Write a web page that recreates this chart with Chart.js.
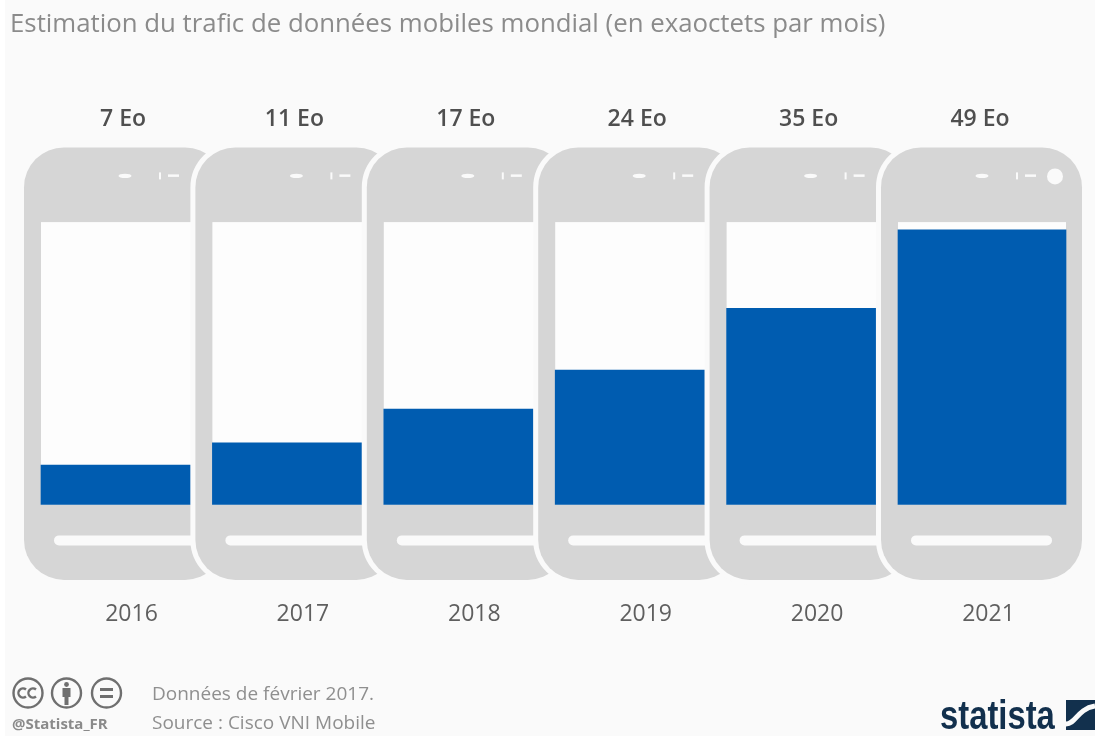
<!DOCTYPE html>
<html lang="fr">
<head>
<meta charset="utf-8">
<title>Trafic de données mobiles</title>
<script src="https://cdn.jsdelivr.net/npm/chart.js@4/dist/chart.umd.min.js"></script>
<style>
    html, body { margin: 0; padding: 0; background: #fafafa; }
    #page { position: relative; width: 1095px; height: 736px; overflow: hidden; font-family: "Open Sans", sans-serif; border-left: 0; background: linear-gradient(to right, #fff 5px, #fafafa 5px); }
    #page canvas { position: absolute; left: 0; top: 0; }
    h1 { position: absolute; left: 10px; top: 5px; margin: 0; font-size: 25.8px; font-weight: 400; line-height: 34px; color: #8b8b8b; white-space: nowrap; }
    .note { position: absolute; left: 152px; font-size: 19px; line-height: 24px; color: #8f8f8f; white-space: nowrap; }
    #handle { position: absolute; left: 12px; top: 713px; font-size: 15px; line-height: 20px; font-weight: 700; color: #8a8a8a; }
    #logo { position: absolute; left: 940px; top: 691px; font-family: "Liberation Sans", sans-serif; font-size: 41px; line-height: 48px; font-weight: 700; color: #12304d; transform: scaleX(0.8); transform-origin: left center; }
    svg { position: absolute; }
</style>
</head>
<body>
<div id="page">
    <canvas id="traffic-chart" width="1095" height="736"></canvas>
    <h1>Estimation du trafic de données mobiles mondial (en exaoctets par mois)</h1>

    <svg style="left:10px;top:676px" width="115" height="36" viewBox="0 0 115 36" fill="none" stroke="#6f6f6f" stroke-width="2.4">
        <circle cx="18" cy="17" r="14.5"/>
        <circle cx="56.5" cy="17" r="14.5"/>
        <circle cx="96.5" cy="17" r="14.5"/>
        <path d="M16 13.5a4.6 4.6 0 1 0 0 7M26 13.5a4.6 4.6 0 1 0 0 7"/>
        <circle cx="56.5" cy="8.5" r="2.4" fill="#6f6f6f" stroke="none"/>
        <path d="M52.5 12h8v9h-2v8h-4v-8h-2z" fill="#6f6f6f" stroke="none"/>
        <path d="M90 13.5h13M90 20.5h13" stroke-width="3"/>
    </svg>
    <div id="handle">@Statista_FR</div>
    <div class="note" style="top:681px">Données de février 2017.</div>
    <div class="note" style="top:710px">Source : Cisco VNI Mobile</div>

    <div id="logo">statista</div>
    <svg style="left:1066px;top:700px" width="29" height="30" viewBox="0 0 29 30">
        <rect width="29" height="30" fill="#12304d"/>
        <path d="M0 24C10 24 11 9 29 6" fill="none" stroke="#fafafa" stroke-width="5"/>
    </svg>
</div>

<script>
const years = ['2016', '2017', '2018', '2019', '2020', '2021'];
const trafficEo = [7, 11, 17, 24, 35, 49];
const valueLabels = ['7 Eo', '11 Eo', '17 Eo', '24 Eo', '35 Eo', '49 Eo'];

const GREY = '#d6d6d6';
const BACKGROUND = '#fafafa';
const SCREEN = '#fdfdfd';
const BLUE = '#005cb0';

function roundedPath(ctx, x, y, w, h, r) {
    ctx.beginPath();
    ctx.roundRect(x, y, w, h, r);
}

// Large tick padding would otherwise push the plot area in from the sides
function dropSidePadding(scale) {
    scale.paddingLeft = 0;
    scale.paddingRight = 0;
}

// The last phone is not covered by a neighbour, so its screen and bar are wider
const lastBarPlugin = {
    id: 'lastBar',
    afterDatasetsUpdate(chart) {
        const bars = chart.getDatasetMeta(0).data;
        const last = bars[bars.length - 1];
        last.x += 9.5;
        last.width += 19;
    }
};

const phonesPlugin = {
    id: 'phones',
    beforeDraw(chart) {
        const { ctx, chartArea, scales } = chart;
        const top = chartArea.bottom - 357;
        const height = 432.5;

        years.forEach((year, i) => {
            const left = scales.x.getPixelForValue(i) - 91.5;
            const isLast = i === years.length - 1;

            ctx.save();
            roundedPath(ctx, left, top, 201, height, 40);
            ctx.lineWidth = 10;
            ctx.strokeStyle = BACKGROUND;
            ctx.stroke();
            ctx.fillStyle = GREY;
            ctx.fill();

            // screen
            ctx.fillStyle = SCREEN;
            ctx.fillRect(left + 17, chartArea.top, isLast ? 168 : 184, chartArea.height);

            // speaker, sensor and home bar
            ctx.fillStyle = BACKGROUND;
            ctx.beginPath();
            ctx.ellipse(left + 101, top + 28.5, 6.5, 2.2, 0, 0, Math.PI * 2);
            ctx.fill();
            ctx.fillRect(left + 135, top + 25, 2, 7);
            ctx.fillRect(left + 144, top + 27, 11, 2.5);
            roundedPath(ctx, left + 30, top + 388, isLast ? 141 : 171, 10, 5);
            ctx.fill();
            if (isLast) {
                ctx.beginPath();
                ctx.arc(left + 174, top + 29, 8, 0, Math.PI * 2);
                ctx.fill();
            }
            ctx.restore();
        });
    }
};

new Chart(document.getElementById('traffic-chart'), {
    type: 'bar',
    data: {
        labels: years,
        datasets: [{
            data: trafficEo,
            backgroundColor: BLUE,
            barThickness: 149,
            clip: false
        }]
    },
    plugins: [phonesPlugin, lastBarPlugin],
    options: {
        responsive: false,
        animation: false,
        // tick padding counts twice in the axis height
        layout: { padding: { left: 29.8, right: 36.8, top: 16.5, bottom: 12 } },
        plugins: { legend: { display: false }, tooltip: { enabled: false } },
        scales: {
            y: { display: false, min: 0, max: 50.4 },
            x: {
                afterFit: dropSidePadding,
                grid: { display: false, drawTicks: false },
                border: { display: false },
                ticks: {
                    padding: 96,
                    labelOffset: 16,
                    maxRotation: 0,
                    autoSkip: false,
                    color: '#5f5f5f',
                    font: { family: '"Open Sans"', size: 23 }
                }
            },
            values: {
                type: 'category',
                position: 'top',
                offset: true,
                labels: valueLabels,
                afterFit: dropSidePadding,
                grid: { display: false, drawTicks: false },
                border: { display: false },
                ticks: {
                    padding: 89,
                    labelOffset: 7.5,
                    maxRotation: 0,
                    autoSkip: false,
                    color: '#4f4f4f',
                    font: { family: '"Open Sans"', size: 23, weight: '600' }
                }
            }
        }
    }
});
</script>
</body>
</html>
